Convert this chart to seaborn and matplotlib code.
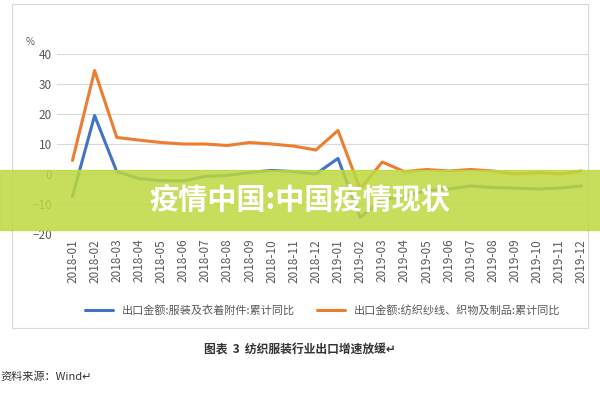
import matplotlib
matplotlib.use("Agg")
import matplotlib.pyplot as plt
import seaborn as sns
import pandas as pd
from matplotlib.patches import Rectangle

sns.set_style("white")
plt.rcParams['font.family'] = ['Noto Sans CJK SC', 'DejaVu Sans']

months = [f"2018-{m:02d}" for m in range(1, 13)] + [f"2019-{m:02d}" for m in range(1, 13)]
clothing = [-7.5, 19.5, 0.8, -1.5, -2.2, -2.3, -0.8, -0.5, 0.5, 1.2, 0.8, 0.0,
            5.2, -14.5, -8.5, -7.5, -5.5, -5.0, -4.0, -4.5, -4.7, -5.0, -4.7, -4.0]
textile = [4.5, 34.5, 12.2, 11.3, 10.5, 10.0, 10.0, 9.5, 10.5, 10.0, 9.3, 8.0,
           14.5, -5.0, 4.0, 0.8, 1.5, 1.0, 1.5, 1.0, 0.0, 0.5, 0.0, 1.0]
names = ["出口金额:服装及衣着附件:累计同比", "出口金额:纺织纱线、织物及制品:累计同比"]

df = pd.DataFrame({"month": months * 2, "value": clothing + textile,
                   "series": [names[0]] * 24 + [names[1]] * 24})

fig = plt.figure(figsize=(6, 4), dpi=100)
fig.patches.append(Rectangle((0.02, 0.18), 0.96, 0.81, transform=fig.transFigure,
                             fill=False, edgecolor="#d9d9d9", lw=0.8))
ax = fig.add_axes([0.095, 0.415, 0.885, 0.45])
sns.lineplot(data=df, x="month", y="value", hue="series", palette=["#4472c4", "#ed7d31"],
             linewidth=2.2, ax=ax, sort=False)
ax.set_ylim(-20, 40)
ax.set_yticks(range(-20, 41, 10))
ax.set_xlim(-0.7, 23.3)
ax.grid(axis="y", color="#d9d9d9", lw=0.8)
for s in ax.spines.values():
    s.set_visible(False)
ax.tick_params(axis="both", labelsize=8.5, colors="#595959", length=0)
plt.setp(ax.get_xticklabels(), rotation=90)
ax.set_xlabel(""); ax.set_ylabel("")
ax.text(-0.06, 1.05, "%", transform=ax.transAxes, fontsize=7, color="#595959")
ax.legend(loc="upper center", bbox_to_anchor=(0.5, -0.34), ncol=2, frameon=False,
          fontsize=8, handlelength=2.5, labelcolor="#595959")

fig.text(0.5, 0.115, "图表  3  纺织服装行业出口增速放缓↵", ha="center", fontsize=8.5,
         weight="bold", color="#333333")
fig.text(0.0, 0.05, "资料来源：Wind↵", fontsize=8, color="#333333")

fig.patches.append(Rectangle((0, 0.425), 1, 0.15, transform=fig.transFigure,
                             color=(0.74, 0.85, 0.25), alpha=0.85, zorder=10))
fig.text(0.5, 0.5, "疫情中国:中国疫情现状", ha="center", va="center", fontsize=21,
         weight="bold", color="white", zorder=11)
fig.savefig("out.png", dpi=100)
